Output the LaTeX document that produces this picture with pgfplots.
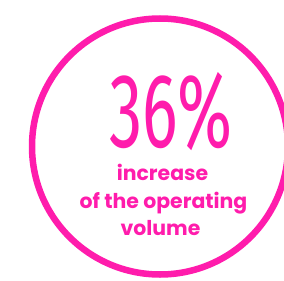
\documentclass[border=0pt]{standalone}
\usepackage{fontspec}
\usepackage{pgfplots}
\pgfplotsset{compat=1.18}
\setmainfont{Poppins}
\newfontfamily\bigfont[FakeStretch=0.63]{Fira Sans}
\newfontfamily\lowfont{Poppins}
\definecolor{pinkc}{HTML}{FF1CAC}
\begin{document}
\begin{tikzpicture}
\begin{axis}[
  hide axis, scale only axis,
  width=284bp, height=281bp,
  xmin=0, xmax=284, ymin=0, ymax=281,
  y dir=reverse,
  clip=true,
]
\addplot[draw=none, forget plot] coordinates {(0,0) (284,281)};
\draw[pinkc, line width=6.5bp] (axis cs:160,146.5) circle[radius=128bp];
\node[anchor=base, text=pinkc, inner sep=0pt, text depth=0pt, font=\bigfont\fontsize{106}{106}\selectfont] at (axis cs:171,147) {36\%};
\node[anchor=base, text=pinkc, inner sep=0pt, text depth=0pt, font=\lowfont\bfseries\fontsize{20.5}{20.5}\selectfont] at (axis cs:162.5,180) {increase};
\node[anchor=base, text=pinkc, inner sep=0pt, font=\lowfont\bfseries\fontsize{20.5}{20.5}\selectfont] at (axis cs:163.5,208) {of the operating};
\node[anchor=base, text=pinkc, inner sep=0pt, font=\lowfont\bfseries\fontsize{20.5}{20.5}\selectfont] at (axis cs:160.5,235.5) {volume};
\end{axis}
\pgfresetboundingbox
\useasboundingbox (current axis.south west) rectangle (current axis.north east);
\end{tikzpicture}
\end{document}
